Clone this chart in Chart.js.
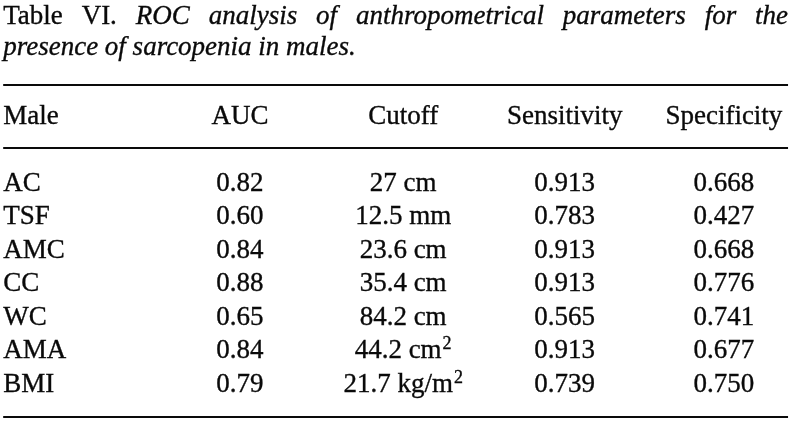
<!DOCTYPE html>
<html>
<head>
<meta charset="utf-8">
<script src="https://cdn.jsdelivr.net/npm/chart.js@4.4.1/dist/chart.umd.min.js"></script>
<style>
  html, body { margin: 0; padding: 0; background: #fff; }
  #wrap { width: 792px; height: 436px; }
</style>
</head>
<body>
<div id="wrap"><canvas id="rocTable"></canvas></div>
<script>
// table content
const titleLead = ["Table", "VI."];
const titleLine1 = "ROC analysis of anthropometrical parameters for the";
const titleLine2 = "presence of sarcopenia in males.";

const headers = ["Male", "AUC", "Cutoff", "Sensitivity", "Specificity"];
const parameters = ["AC", "TSF", "AMC", "CC", "WC", "AMA", "BMI"];
const auc = [0.82, 0.60, 0.84, 0.88, 0.65, 0.84, 0.79];
const cutoffValues = [27, 12.5, 23.6, 35.4, 84.2, 44.2, 21.7];
const cutoffUnits = ["cm", "mm", "cm", "cm", "cm", "cm", "kg/m"];
const cutoffPowers = ["", "", "", "", "", "2", "2"];
const sensitivity = [0.913, 0.783, 0.913, 0.913, 0.565, 0.913, 0.739];
const specificity = [0.668, 0.427, 0.668, 0.776, 0.741, 0.677, 0.750];

// layout (percent of width for columns, row units for lines)
const colPos = [0.4, 30.3, 50.9, 71.3, 91.4];
const titleRows = [-2.99, -2.06];
const ruleRows = [-1.16, 0.72, 8.75];
const FONT = '"Liberation Serif", "Times New Roman", serif';
const SIZE = 27;
const INK = "#0a0a0a";

function cellText(col, i) {
  if (col === 0) return { text: parameters[i] };
  if (col === 1) return { text: auc[i].toFixed(2) };
  if (col === 2) return { text: cutoffValues[i] + " " + cutoffUnits[i], sup: cutoffPowers[i] };
  if (col === 3) return { text: sensitivity[i].toFixed(3) };
  return { text: specificity[i].toFixed(3) };
}

const datasets = headers.map((h, c) => {
  const cells = [{ text: h }];
  const pts = [{ x: colPos[c], y: 0 }];
  parameters.forEach((p, i) => {
    cells.push(cellText(c, i));
    pts.push({ x: colPos[c], y: i + 2 });
  });
  return { label: h, data: pts, cells: cells, align: c === 0 ? "left" : "center", pointRadius: 0, showLine: false };
});

// fill plus a hairline stroke, the scanned type is a bit heavier
function ink(ctx, text, x, y) {
  ctx.fillText(text, x, y);
  ctx.strokeText(text, x, y);
}

const tablePlugin = {
  id: "tableText",
  afterDatasetsDraw(chart) {
    const ctx = chart.ctx;
    const xs = chart.scales.x;
    const ys = chart.scales.y;
    const left = xs.getPixelForValue(colPos[0]);
    const right = xs.getPixelForValue(99.5);
    ctx.save();
    ctx.fillStyle = INK;
    ctx.strokeStyle = INK;
    ctx.textBaseline = "alphabetic";
    ctx.textAlign = "left";

    // title, first line justified
    ctx.lineWidth = 0.35;
    const y1 = ys.getPixelForValue(titleRows[0]);
    const words = titleLead.map((w) => ({ w, font: SIZE + "px " + FONT }))
      .concat(titleLine1.split(" ").map((w) => ({ w, font: "italic " + SIZE + "px " + FONT })));
    let total = 0;
    words.forEach((o) => { ctx.font = o.font; o.width = ctx.measureText(o.w).width; total += o.width; });
    const gap = (right - left - total) / (words.length - 1);
    let x = left;
    words.forEach((o) => { ctx.font = o.font; ink(ctx, o.w, x, y1); x += o.width + gap; });
    ctx.font = "italic " + SIZE + "px " + FONT;
    ink(ctx, titleLine2, left, ys.getPixelForValue(titleRows[1]));

    // rules
    ctx.lineWidth = 2;
    ruleRows.forEach((r) => {
      const y = Math.round(ys.getPixelForValue(r));
      ctx.beginPath();
      ctx.moveTo(left, y);
      ctx.lineTo(right, y);
      ctx.stroke();
    });

    // cells
    ctx.lineWidth = 0.35;
    chart.data.datasets.forEach((ds, di) => {
      const meta = chart.getDatasetMeta(di);
      meta.data.forEach((pt, j) => {
        const cell = ds.cells[j];
        ctx.font = SIZE + "px " + FONT;
        const w = ctx.measureText(cell.text).width;
        let supW = 0;
        if (cell.sup) {
          ctx.font = "18px " + FONT;
          supW = ctx.measureText(cell.sup).width + 1;
        }
        const x0 = ds.align === "left" ? pt.x : pt.x - (w + supW) / 2;
        ctx.font = SIZE + "px " + FONT;
        ink(ctx, cell.text, x0, pt.y);
        if (cell.sup) {
          ctx.font = "18px " + FONT;
          ink(ctx, cell.sup, x0 + w + 1, pt.y - 9);
        }
      });
    });
    ctx.restore();
  }
};

new Chart(document.getElementById("rocTable"), {
  type: "scatter",
  data: { datasets: datasets },
  options: {
    responsive: true,
    maintainAspectRatio: false,
    animation: false,
    layout: { padding: 0 },
    plugins: { legend: { display: false }, tooltip: { enabled: false } },
    scales: {
      x: { type: "linear", min: 0, max: 100, display: false },
      y: { type: "linear", reverse: true, min: -3.7, max: 9.315, display: false }
    }
  },
  plugins: [tablePlugin]
});
</script>
</body>
</html>
